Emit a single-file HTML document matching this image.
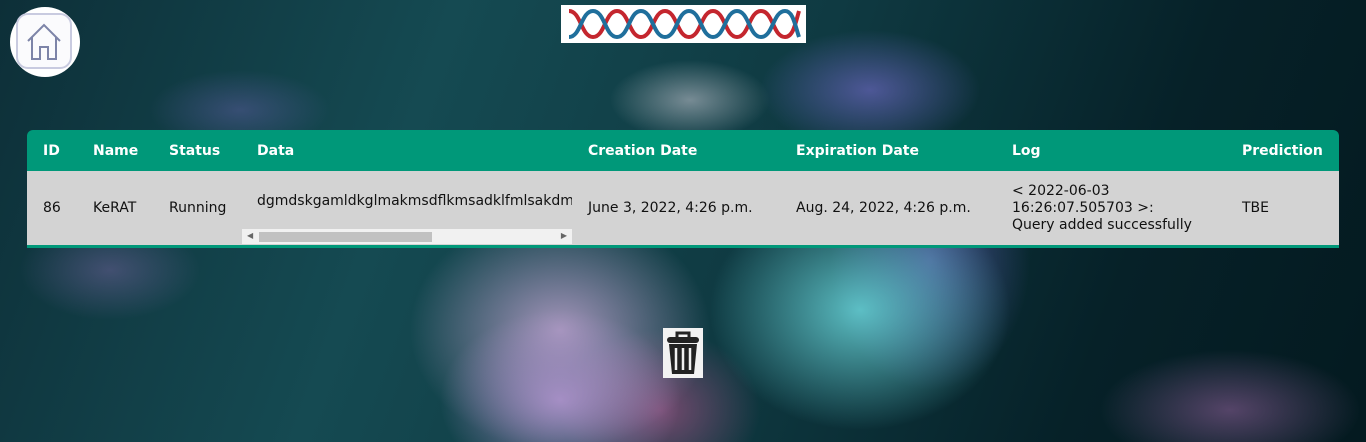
<!DOCTYPE html>
<html><head><meta charset="utf-8"><style>
html,body{margin:0;padding:0;width:1366px;height:442px;overflow:hidden}
body{position:relative;font-family:"DejaVu Sans","Liberation Sans",sans-serif;
background:
radial-gradient(ellipse 120px 90px at 560px 400px,rgba(180,150,210,.85),rgba(180,150,210,0) 100%),
radial-gradient(ellipse 150px 120px at 560px 330px,rgba(200,170,215,.8),rgba(200,170,215,0) 100%),
radial-gradient(ellipse 150px 120px at 860px 310px,rgba(100,205,210,.9),rgba(100,205,210,0) 100%),
radial-gradient(ellipse 100px 80px at 660px 410px,rgba(160,80,130,.7),rgba(160,80,130,0) 100%),
radial-gradient(ellipse 100px 130px at 930px 260px,rgba(110,100,200,.6),rgba(110,100,200,0) 100%),
radial-gradient(ellipse 110px 60px at 870px 90px,rgba(120,110,210,.6),rgba(120,110,210,0) 100%),
radial-gradient(ellipse 80px 40px at 690px 100px,rgba(220,215,225,.5),rgba(220,215,225,0) 100%),
radial-gradient(ellipse 130px 60px at 1230px 410px,rgba(150,100,160,.55),rgba(150,100,160,0) 100%),
radial-gradient(ellipse 90px 40px at 240px 110px,rgba(110,100,180,.4),rgba(110,100,180,0) 100%),
radial-gradient(ellipse 90px 50px at 110px 270px,rgba(140,110,180,.4),rgba(140,110,180,0) 100%),
linear-gradient(110deg,#0d2f38 0%,#154a52 30%,#0f3a42 55%,#062128 80%,#041a20 100%);}
.home{position:absolute;left:10px;top:7px;width:70px;height:70px;border-radius:50%;background:#fff}
.home .sq{position:absolute;left:6px;top:6px;width:56px;height:56px;border:2px solid #c9cbe0;border-radius:12px;box-sizing:border-box;background:#fbfbfd}
.logo{position:absolute;left:561px;top:5px;width:245px;height:38px;background:#fff}
table{position:absolute;left:27px;top:130px;width:1312px;border-collapse:collapse;font-size:14px}
th{background:#009879;color:#fff;font-weight:bold;text-align:left;height:41px;padding:0 0 0 16px;font-size:14px}
th:first-child{border-top-left-radius:6px}th:last-child{border-top-right-radius:6px}
td{background:#d3d3d3;color:#111;height:74px;padding:0 0 0 16px;border-bottom:3px solid #009879;vertical-align:middle}
.data{position:relative;width:330px;height:74px;overflow:hidden}
.data .txt{position:absolute;left:15px;top:22px;white-space:nowrap}
.sb{position:absolute;left:0;top:58px;width:330px;height:15px;background:#f1f1f1}
.thumb{position:absolute;left:17px;top:3px;width:173px;height:10px;background:#c1c1c1}
.arr{position:absolute;top:2px;font-size:8px;color:#666}
.trash{position:absolute;left:663px;top:328px;width:40px;height:50px;background:#f2f2f2}
</style></head><body>
<div class="home"><div class="sq">
<svg width="52" height="52" viewBox="0 0 52 52"><path d="M10 26 L26 10 L42 26 M14 22 V44 H22 V32 H30 V44 H38 V22" fill="none" stroke="#7d84a8" stroke-width="2"/></svg></div></div>
<div class="logo">
<svg width="245" height="38" viewBox="0 0 245 38">
<path d="M8 6 C20 6 20 32 32 32 C44 32 44 6 56 6 C68 6 68 32 80 32 C92 32 92 6 104 6 C116 6 116 32 128 32 C140 32 140 6 152 6 C164 6 164 32 176 32 C188 32 188 6 200 6 C212 6 212 32 224 32 C232 32 234 20 238 6" fill="none" stroke="#c4262e" stroke-width="4"/>
<path d="M8 32 C20 32 20 6 32 6 C44 6 44 32 56 32 C68 32 68 6 80 6 C92 6 92 32 104 32 C116 32 116 6 128 6 C140 6 140 32 152 32 C164 32 164 6 176 6 C188 6 188 32 200 32 C212 32 212 6 224 6 C232 6 234 20 238 32" fill="none" stroke="#1f6f9c" stroke-width="4"/></svg></div>
<table>
<tr>
<th style="width:34px">ID</th>
<th style="width:60px">Name</th>
<th style="width:73px">Status</th>
<th style="width:314px;padding-left:15px">Data</th>
<th style="width:192px">Creation Date</th>
<th style="width:200px">Expiration Date</th>
<th style="width:214px">Log</th>
<th>Prediction</th></tr>
<tr>
<td>86</td>
<td>KeRAT</td>
<td>Running</td>
<td style="padding:0"><div class="data"><span class="txt">dgmdskgamldkglmakmsdflkmsadklfmlsakdmflkasmdf</span>
<div class="sb"><span class="arr" style="left:5px">◀</span><div class="thumb"></div><span class="arr" style="right:5px">▶</span></div></div></td>
<td>June 3, 2022, 4:26 p.m.</td>
<td>Aug. 24, 2022, 4:26 p.m.</td>
<td style="line-height:17px">&lt; 2022-06-03<br>16:26:07.505703 &gt;:<br>Query added successfully</td>
<td>TBE</td></tr>
</table>
<div class="trash">
<svg width="40" height="50" viewBox="0 0 40 50"><path d="M14 9 V5 H26 V9" fill="none" stroke="#222" stroke-width="3"/><rect x="4" y="9" width="32" height="6" rx="3" fill="#222"/><path d="M6 16 H34 L31 46 H9 Z" fill="#222"/><path d="M13 20 V42 M20 20 V42 M27 20 V42" stroke="#f2f2f2" stroke-width="2.5"/></svg></div>
</body></html>
